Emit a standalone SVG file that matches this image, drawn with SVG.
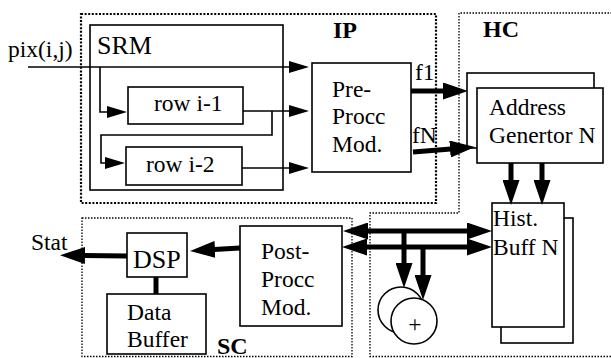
<svg xmlns="http://www.w3.org/2000/svg" width="611" height="358" viewBox="0 0 611 358">
<style>
text{font-family:"Liberation Serif",serif;font-size:23.5px;fill:#000}
.big{font-size:26px}
.hd{font-size:24px;font-weight:bold}
.box{fill:#fff;stroke:#000;stroke-width:1.6}
.reg{fill:none;stroke:#000;stroke-width:1.3;stroke-dasharray:1.5 1.5}
.regb{fill:none;stroke:#000;stroke-width:2.2;stroke-dasharray:2 1.6}
.thin{fill:none;stroke:#000;stroke-width:1.6;marker-end:url(#ah)}
.thick{fill:none;stroke:#000;stroke-width:5;marker-end:url(#AH)}
.bus{fill:none;stroke:#000;stroke-width:5;marker-start:url(#AH);marker-end:url(#AH)}
</style>
<defs>
<marker id="ah" markerUnits="userSpaceOnUse" viewBox="0 -6 20 12" refX="1" refY="0" markerWidth="20" markerHeight="12" orient="auto-start-reverse">
<path d="M0,-6 L20,0 L0,6 z" fill="#000"/>
</marker>
<marker id="AH" markerUnits="userSpaceOnUse" viewBox="0 -8.5 25 17" refX="1" refY="0" markerWidth="25" markerHeight="17" orient="auto-start-reverse">
<path d="M0,-8.5 L25,0 L0,8.5 z" fill="#000"/>
</marker>
</defs>
<rect width="611" height="358" fill="#fff"/>

<g id="IP">
<rect class="regb" x="81" y="14" width="355" height="189"/>
<text class="hd" x="333" y="38">IP</text>
</g>
<g id="HC">
<path class="reg" d="M612,13 H459 V213 H370 V356.5 H612"/>
<text class="hd" x="483" y="37">HC</text>
</g>
<g id="SC">
<rect class="reg" x="82" y="218" width="270" height="138.5"/>
<text class="hd" x="217" y="354">SC</text>
</g>

<g id="SRM">
<rect class="box" x="90" y="25" width="193" height="165"/>
<text class="big" x="97" y="54">SRM</text>
</g>
<g id="row1">
<rect class="box" x="128" y="87" width="115" height="37"/>
<text x="154" y="111">row i-1</text>
</g>
<g id="row2">
<rect class="box" x="126" y="147" width="116" height="38"/>
<text x="146" y="172">row i-2</text>
</g>
<g id="preproc">
<rect class="box" x="312" y="63" width="99" height="109"/>
<text x="332" y="97">Pre-</text>
<text x="332" y="124">Procc</text>
<text x="332" y="152">Mod.</text>
</g>
<g id="addrgen">
<rect class="box" x="467" y="73" width="127" height="75"/>
<rect class="box" x="477" y="88" width="126" height="75"/>
<text x="489" y="115">Address</text>
<text x="489" y="143">Genertor N</text>
</g>
<g id="histbuff">
<rect class="box" x="501" y="218" width="72" height="125"/>
<rect class="box" x="492" y="203" width="72" height="124"/>
<text x="493" y="226">Hist.</text>
<text x="493" y="255">Buff N</text>
</g>
<g id="postproc">
<rect class="box" x="240" y="226" width="102" height="100"/>
<text x="261" y="259">Post-</text>
<text x="261" y="287">Procc</text>
<text x="261" y="315">Mod.</text>
</g>
<g id="dsp">
<rect class="box" x="127" y="233" width="60" height="44"/>
<text class="big" x="133" y="268">DSP</text>
</g>
<g id="databuf">
<rect class="box" x="107" y="294" width="99" height="60"/>
<text x="127" y="320">Data</text>
<text x="127" y="347">Buffer</text>
</g>
<g id="adders">
<circle class="box" cx="401" cy="310" r="23"/>
<circle class="box" cx="414" cy="321" r="23"/>
<text x="415" y="332" text-anchor="middle">+</text>
</g>
<g id="labels">
<text x="8" y="57">pix(i,j)</text>
<text x="415" y="80">f1</text>
<text x="412" y="143">fN</text>
<text x="31" y="250">Stat</text>
</g>

<g id="connectors">
<path class="thin" d="M28,67 H290"/>
<path class="thin" d="M100,67 V112 H108"/>
<path class="thin" d="M243,111 H290"/>
<path class="thin" d="M272,111 V135 H101 V163 H106"/>
<path class="thin" d="M242,168 H290"/>
<path class="thick" d="M411,91 H444"/>
<path class="thick" d="M413,152 L451,149"/>
<path class="thick" d="M511,163 V181"/>
<path class="thick" d="M542,163 V181"/>
<path class="bus" d="M367,231 H468"/>
<path class="bus" d="M366,247 H468"/>
<path class="thick" d="M404,231 V264"/>
<path class="thick" d="M423,247 V276"/>
<path class="thick" d="M240,248 L214,249.5"/>
<path class="thick" d="M127,256 L84,255.5"/>
<path fill="none" stroke="#000" stroke-width="5" d="M156,277 V294"/>
</g>
</svg>
